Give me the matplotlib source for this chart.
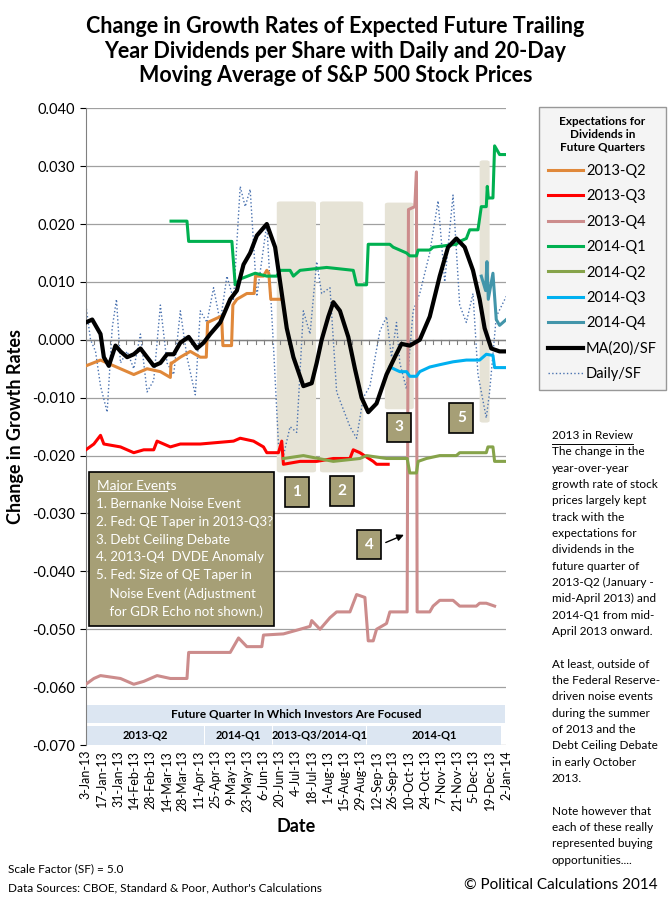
"""Change in growth rates of expected dividends vs S&P 500 (2013)."""

import matplotlib

matplotlib.use("Agg")
import matplotlib.pyplot as plt
from matplotlib.patches import FancyBboxPatch, Rectangle
from matplotlib.lines import Line2D

plt.rcParams["font.family"] = ["Lato", "DejaVu Sans"]

# x values are days since 3-Jan-2013
tick_labels = ["3-Jan-13", "17-Jan-13", "31-Jan-13", "14-Feb-13", "28-Feb-13", "14-Mar-13",
               "28-Mar-13", "11-Apr-13", "25-Apr-13", "9-May-13", "23-May-13", "6-Jun-13",
               "20-Jun-13", "4-Jul-13", "18-Jul-13", "1-Aug-13", "15-Aug-13", "29-Aug-13",
               "12-Sep-13", "26-Sep-13", "10-Oct-13", "24-Oct-13", "7-Nov-13", "21-Nov-13",
               "5-Dec-13", "19-Dec-13", "2-Jan-14"]


def d(px):
    # horizontal position -> day number
    return [(p - 256) / 3.47 for p in px]


q2_2013_x = d([256, 300, 340, 400, 440, 480, 510, 512, 515, 540, 570, 600, 618, 622, 660, 664,
               668, 694, 698, 710, 740, 762, 766, 790, 800, 806, 812, 845])
q2_2013_y = [-0.0045, -0.0035, -0.0045, -0.006, -0.005, -0.0055, -0.0065, -0.004, -0.004, -0.003,
             -0.002, -0.003, -0.003, 0.003, 0.004, 0.004, -0.001, -0.001, 0.006, 0.007, 0.008,
             0.008, 0.011, 0.011, 0.012, 0.0115, 0.007, 0.007]

q3_2013_x = d([256, 280, 300, 310, 360, 400, 430, 460, 470, 510, 540, 600, 700, 720, 760, 790,
               800, 835, 845, 850, 900, 950, 1000, 1050, 1060, 1080, 1120, 1130, 1165])
q3_2013_y = [-0.019, -0.018, -0.0165, -0.018, -0.0185, -0.0195, -0.019, -0.019, -0.0175, -0.0185,
             -0.018, -0.018, -0.0175, -0.017, -0.0175, -0.0185, -0.0195, -0.0195, -0.0175, -0.0215,
             -0.021, -0.021, -0.0205, -0.0205, -0.019, -0.0195, -0.021, -0.0215, -0.0215]

q4_2013_x = d([256, 280, 300, 360, 400, 430, 470, 510, 560, 565, 620, 690, 700, 715, 740, 785,
               790, 850, 900, 930, 935, 960, 990, 1010, 1050, 1070, 1095, 1105, 1120, 1130, 1160,
               1170, 1222, 1226, 1245, 1250, 1252, 1290, 1300, 1320, 1360, 1380, 1430, 1440,
               1460, 1485])
q4_2013_y = [-0.0595, -0.0585, -0.058, -0.0585, -0.0595, -0.059, -0.058, -0.0585, -0.0585,
             -0.054, -0.054, -0.054, -0.053, -0.0515, -0.053, -0.053, -0.051, -0.0508, -0.050,
             -0.0495, -0.0485, -0.050, -0.048, -0.047, -0.047, -0.044, -0.0445, -0.052, -0.052,
             -0.050, -0.049, -0.047, -0.047, 0.0225, 0.023, 0.029, -0.047, -0.047, -0.046,
             -0.045, -0.045, -0.046, -0.046, -0.0455, -0.0455, -0.046]

q1_2014_x = d([512, 560, 565, 695, 705, 720, 765, 800, 830, 840, 870, 880, 900, 980, 1060, 1070,
               1100, 1105, 1170, 1180, 1200, 1220, 1230, 1250, 1255, 1290, 1300, 1370, 1380,
               1400, 1410, 1435, 1445, 1460, 1463, 1466, 1480, 1485, 1500, 1520])
q1_2014_y = [0.0205, 0.0205, 0.017, 0.017, 0.0095, 0.0105, 0.0115, 0.011, 0.011, 0.012, 0.012,
             0.011, 0.012, 0.0125, 0.012, 0.0095, 0.0095, 0.0165, 0.0165, 0.016, 0.0155, 0.015,
             0.0145, 0.0145, 0.0155, 0.0155, 0.016, 0.0165, 0.017, 0.0175, 0.019, 0.019, 0.023,
             0.023, 0.0265, 0.0245, 0.0245, 0.0335, 0.032, 0.032]

q2_2014_x = d([850, 910, 1000, 1080, 1100, 1160, 1222, 1230, 1250, 1255, 1280, 1320, 1370, 1380,
               1460, 1465, 1480, 1485, 1520])
q2_2014_y = [-0.0205, -0.020, -0.021, -0.0205, -0.020, -0.0205, -0.0205, -0.023, -0.023, -0.021,
             -0.0205, -0.020, -0.020, -0.0195, -0.0195, -0.0185, -0.0185, -0.021, -0.021]

q3_2014_x = d([1170, 1200, 1220, 1230, 1250, 1260, 1290, 1320, 1360, 1400, 1440, 1460, 1480,
               1485, 1520])
q3_2014_y = [-0.0047, -0.0055, -0.0055, -0.0063, -0.0063, -0.0055, -0.0047, -0.0043, -0.0038,
             -0.0035, -0.0035, -0.0025, -0.0027, -0.0048, -0.0048]

q4_2014_x = d([1445, 1458, 1462, 1466, 1480, 1490, 1500, 1520])
q4_2014_y = [0.011, 0.0085, 0.0135, 0.007, 0.0115, 0.0035, 0.0025, 0.0035]

ma20_x = d([256, 275, 300, 310, 325, 345, 360, 380, 400, 420, 440, 460, 480, 500, 520, 540, 565,
            590, 610, 630, 660, 690, 710, 730, 750, 770, 800, 825, 840, 860, 880, 910, 935, 950,
            965, 985, 1000, 1020, 1045, 1065, 1085, 1105, 1130, 1160, 1185, 1205, 1230, 1260,
            1290, 1320, 1345, 1370, 1395, 1420, 1440, 1455, 1475, 1500, 1520])
ma20_y = [0.003, 0.0035, 0.001, -0.003, -0.0045, -0.001, -0.002, -0.003, -0.0025, -0.0015,
          -0.003, -0.0045, -0.004, -0.0025, -0.0025, -0.0005, 0.0005, -0.0015, -0.0005, 0.001,
          0.003, 0.007, 0.0085, 0.013, 0.015, 0.018, 0.020, 0.016, 0.010, 0.002, -0.003, -0.008,
          -0.0075, -0.004, 0.000, 0.004, 0.0065, 0.005, 0.0005, -0.005, -0.010, -0.0125, -0.011,
          -0.006, -0.003, -0.0007, -0.001, 0.000, 0.004, 0.011, 0.016, 0.0175, 0.016, 0.012,
          0.007, 0.002, -0.0015, -0.002, -0.002]

daily_x = d([256, 270, 285, 300, 320, 335, 348, 360, 380, 400, 420, 440, 460, 480, 500, 520, 540,
             560, 585, 600, 620, 640, 660, 680, 700, 720, 735, 750, 770, 800, 820, 835, 850, 870,
             890, 910, 930, 950, 965, 990, 1010, 1030, 1050, 1070, 1090, 1110, 1140, 1160, 1175,
             1190, 1200, 1220, 1240, 1260, 1290, 1315, 1335, 1360, 1380, 1400, 1420, 1435, 1460,
             1470, 1490, 1520])
daily_y = [0.006, 0.0, -0.002, -0.008, -0.0125, 0.002, 0.007, -0.004, -0.002, -0.005, 0.001,
           -0.009, -0.007, 0.006, -0.004, -0.006, 0.005, -0.003, -0.0095, 0.005, 0.003, 0.009,
           0.003, 0.011, 0.007, 0.0265, 0.023, 0.026, 0.0075, 0.020, -0.001, -0.018, -0.020,
           -0.015, -0.016, 0.005, 0.001, 0.0135, 0.008, 0.009, -0.009, -0.012, -0.015, -0.017,
           -0.010, -0.008, 0.0015, 0.004, -0.003, 0.003, -0.004, -0.0085, 0.005, 0.008, 0.015,
           0.024, 0.010, 0.025, 0.006, 0.003, 0.008, -0.006, -0.0135, -0.009, 0.004, 0.0075]

series = [
    ("2013-Q2", q2_2013_x, q2_2013_y, "#e0883a"),
    ("2013-Q3", q3_2013_x, q3_2013_y, "#ff0000"),
    ("2013-Q4", q4_2013_x, q4_2013_y, "#cc8c8c"),
    ("2014-Q1", q1_2014_x, q1_2014_y, "#00b050"),
    ("2014-Q2", q2_2014_x, q2_2014_y, "#86a34a"),
    ("2014-Q3", q3_2014_x, q3_2014_y, "#00b0f0"),
    ("2014-Q4", q4_2014_x, q4_2014_y, "#4295aa"),
]

# shaded event windows: (start day, end day, top, bottom)
shade_x0 = d([830, 960, 1155, 1440])
shade_x1 = d([948, 1090, 1242, 1470])
shade_top = [0.0239, 0.0239, 0.0237, 0.031]
shade_bot = [-0.0229, -0.0229, -0.012, -0.0143]

marker_labels = ["1", "2", "3", "4", "5"]
marker_x = d([890, 1027, 1197, 1108, 1385])
marker_y = [-0.0263, -0.0261, -0.0151, -0.0354, -0.0135]

focus_labels = ["2013-Q2", "2014-Q1", "2013-Q3/2014-Q1", "2014-Q1"]
focus_x0 = d([260, 613, 818, 1102])
focus_x1 = d([610, 815, 1098, 1505])

events = ["1. Bernanke Noise Event", "2. Fed: QE Taper in 2013-Q3?", "3. Debt Ceiling Debate",
          "4. 2013-Q4  DVDE Anomaly", "5. Fed: Size of QE Taper in",
          "    Noise Event (Adjustment", "    for GDR Echo not shown.)"]

review = ["The change in the", "year-over-year", "growth rate of stock", "prices largely kept",
          "track with the", "expectations for", "dividends in the", "future quarter of",
          "2013-Q2 (January -", "mid-April 2013) and", "2014-Q1 from mid-",
          "April 2013 onward.", "", "At least, outside of", "the Federal Reserve-",
          "driven noise events", "during the summer", "of 2013 and the",
          "Debt Ceiling Debate", "in early October", "2013.", "", "Note however that",
          "each of these really", "represented buying", "opportunities...."]

fig = plt.figure(figsize=(6.71, 9.02), dpi=100)
ax = fig.add_axes([0.128, 0.174, 0.626, 0.706])
ax.set_xlim(0, 364)
ax.set_ylim(-0.070, 0.040)

for x0, x1, top, bot in zip(shade_x0, shade_x1, shade_top, shade_bot):
    ax.add_patch(FancyBboxPatch((x0, bot), x1 - x0, top - bot,
                                boxstyle="round,pad=0,rounding_size=3",
                                mutation_aspect=0.0001,
                                fc="#e6e3d6", ec="none", zorder=1))

handles = []
for name, xs, ys, color in series:
    (h,) = ax.plot(xs, ys, color=color, lw=2.2, label=name, zorder=3)
    handles.append(h)
(h,) = ax.plot(ma20_x, ma20_y, color="black", lw=3, label="MA(20)/SF", zorder=4)
handles.append(h)
(h,) = ax.plot(daily_x, daily_y, color="#4a72b0", lw=1, ls=":", label="Daily/SF", zorder=2)
handles.append(h)

ax.set_xticks(range(0, 365, 14))
ax.set_xticklabels(tick_labels, rotation=90, fontsize=9)
ax.set_yticks([0.04 - 0.01 * i for i in range(12)])
ax.set_yticklabels([f"{0.04 - 0.01 * i:.3f}" for i in range(12)], fontsize=10.5)
ax.yaxis.grid(True, color="#a0a0a0", lw=0.9)
ax.set_axisbelow(True)
ax.tick_params(axis="y", length=4)
ax.tick_params(axis="x", length=0)
for s in ["top", "right"]:
    ax.spines[s].set_visible(False)
ax.spines["bottom"].set_visible(False)
ax.spines["left"].set_color("#808080")
ax.axhline(0, color="#808080", lw=1, zorder=2)
for t in range(0, 365, 7):
    ax.plot([t, t], [0, -0.0007], color="#808080", lw=0.8, zorder=2)

ax.set_xlabel("Date", fontsize=13, fontweight="bold")
ax.set_ylabel("Change in Growth Rates", fontsize=13, fontweight="bold", labelpad=6)

# focus quarter band
ax.add_patch(Rectangle((0.3, -0.0662), 363, 0.0032, fc="#dce6f2", ec="none", zorder=2))
ax.text(182, -0.0646, "Future Quarter In Which Investors Are Focused", ha="center", va="center",
        fontsize=8.5, fontweight="bold", zorder=3)
for lab, x0, x1 in zip(focus_labels, focus_x0, focus_x1):
    ax.add_patch(Rectangle((x0, -0.0700), x1 - x0, 0.0033, fc="#dce6f2", ec="none", zorder=2))
    ax.text((x0 + x1) / 2, -0.06835, lab, ha="center", va="center", fontsize=8,
            fontweight="bold", zorder=3)

box_style = dict(fc="#a69f76", ec="black", lw=1.2)
for lab, mx, my in zip(marker_labels, marker_x, marker_y):
    ax.text(mx, my, lab, ha="center", va="center", fontsize=11, fontweight="bold",
            color="white", zorder=6,
            bbox=dict(boxstyle="square,pad=0.5", **box_style))
ax.annotate("", xy=(d([1220])[0], -0.0335), xytext=(d([1150])[0], -0.0352),
            arrowprops=dict(arrowstyle="-|>", color="black", lw=1), zorder=6)

# major events box
ax.add_patch(Rectangle((2.6, -0.0494), 160, 0.0265, zorder=5, **box_style))
ax.text(10, -0.0253, "Major Events", fontsize=9.8, color="white", zorder=6, va="center")
ax.plot([10, 70], [-0.0262, -0.0262], color="white", lw=0.8, zorder=6)
for i, line in enumerate(events):
    ax.text(9, -0.0283 - 0.0031 * i, line, fontsize=9.6, color="white", zorder=6, va="center")

leg = fig.legend(handles=handles, loc="upper right", bbox_to_anchor=(0.992, 0.881),
                 title="Expectations for\nDividends in\nFuture Quarters",
                 title_fontproperties=dict(size=8.5, weight="bold"),
                 fontsize=10.5, frameon=True, fancybox=False, handlelength=2.4,
                 handletextpad=0.2, labelspacing=0.78, borderpad=0.6, borderaxespad=0)
leg.get_frame().set_facecolor("#f2f2f2")
leg.get_frame().set_edgecolor("#808080")
leg.get_title().set_multialignment("center")

fig.text(0.5, 0.982, "Change in Growth Rates of Expected Future Trailing\n"
         "Year Dividends per Share with Daily and 20-Day\n"
         "Moving Average of S&P 500 Stock Prices",
         ha="center", va="top", fontsize=15.5, fontweight="bold", linespacing=1.2)

fig.text(0.822, 0.517, "2013 in Review", fontsize=8.5, va="center")
fig.add_artist(Line2D([0.822, 0.943], [0.508, 0.508], color="black", lw=0.7))
for i, line in enumerate(review):
    fig.text(0.822, 0.499 - i * 0.0181, line, fontsize=8.5, va="center")

fig.text(0.012, 0.037, "Scale Factor (SF) = 5.0", fontsize=8.5, va="center")
fig.text(0.012, 0.016, "Data Sources: CBOE, Standard & Poor, Author's Calculations",
         fontsize=8.5, va="center")
fig.text(0.98, 0.019, "\u00a9 Political Calculations 2014", fontsize=11, ha="right",
         va="center")

fig.savefig("out.png", dpi=100)
